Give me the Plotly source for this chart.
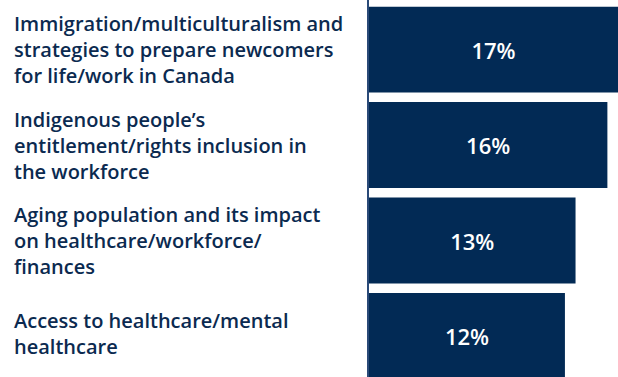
import plotly.graph_objects as go

categories = [
    "Immigration/multiculturalism and<br>strategies to prepare newcomers<br>for life/work in Canada",
    "Indigenous people\u2019s<br>entitlement/rights inclusion in<br>the workforce",
    "Aging population and its impact<br>on healthcare/workforce/<br>finances",
    "Access to healthcare/mental<br>healthcare",
]
values = [17, 16, 13, 12]
value_labels = ["17%", "16%", "13%", "12%"]

NAVY = "#022a55"
TEXT_NAVY = "#0b2a50"
FONT = "Open Sans"
W, H = 618, 377
X_LO, X_HI = -6.46, 17.0
PLOT_LEFT = 369
LABEL_LEFT = 12
plot_w = W - PLOT_LEFT

fig = go.Figure(
    go.Bar(
        y=list(range(len(categories))),
        x=[v - X_LO for v in values],
        base=X_LO,
        orientation="h",
        width=0.9,
        marker=dict(color=NAVY, line=dict(width=0)),
        text=value_labels,
        textposition="inside",
        insidetextanchor="middle",
        textangle=0,
        textfont=dict(family=FONT, size=22, color="white", weight=600),
        hoverinfo="skip",
    )
)

for i, label in enumerate(categories):
    fig.add_annotation(
        x=(LABEL_LEFT - PLOT_LEFT) / plot_w,
        xref="paper",
        y=i,
        yref="y",
        yshift=2 if i == len(categories) - 1 else 0,
        text=label,
        showarrow=False,
        xanchor="left",
        yanchor="middle",
        align="left",
        font=dict(family=FONT, size=20, color=TEXT_NAVY, weight=600),
    )

fig.update_layout(
    width=W,
    height=H,
    margin=dict(l=PLOT_LEFT, r=0, t=0, b=0),
    paper_bgcolor="white",
    plot_bgcolor="white",
    showlegend=False,
    xaxis=dict(range=[X_LO, X_HI], visible=False, fixedrange=True),
    yaxis=dict(
        range=[3.43, -0.52],
        showticklabels=False,
        showgrid=False,
        zeroline=False,
        showline=True,
        linecolor="#2a4a78",
        linewidth=1.5,
        ticks="",
        fixedrange=True,
    ),
)

fig.write_html("out.html")
